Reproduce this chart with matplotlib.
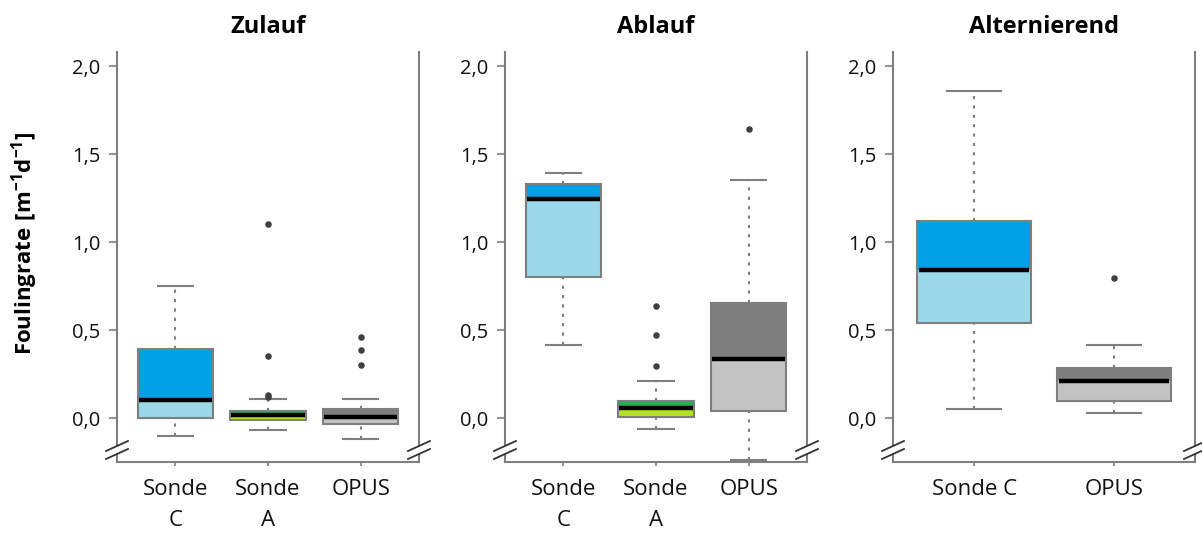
import matplotlib.pyplot as plt
import matplotlib.patches as mpatches

plt.rcParams['font.family'] = ['Open Sans', 'DejaVu Sans']
plt.rcParams['mathtext.fontset'] = 'custom'
plt.rcParams['mathtext.rm'] = 'Open Sans'
plt.rcParams['mathtext.bf'] = 'Open Sans:bold'

# Kennwerte der Boxplots je Betriebsweise: unteres Whiskerende, Q1, Median, Q3, oberes Whiskerende
titel = ['Zulauf', 'Ablauf', 'Alternierend']
kategorien = [
    ['Sonde\nC', 'Sonde\nA', 'OPUS'],
    ['Sonde\nC', 'Sonde\nA', 'OPUS'],
    ['Sonde C', 'OPUS'],
]
w_unten = [[-0.10, -0.07, -0.12], [0.415, -0.06, -0.24], [0.05, 0.027]]
q1 = [[0.0, -0.01, -0.035], [0.80, 0.007, 0.042], [0.54, 0.097]]
median = [[0.10, 0.015, 0.005], [1.245, 0.057, 0.337], [0.84, 0.21]]
q3 = [[0.39, 0.04, 0.05], [1.33, 0.097, 0.654], [1.12, 0.285]]
w_oben = [[0.75, 0.11, 0.11], [1.39, 0.21, 1.35], [1.86, 0.415]]
ausreisser = [
    [[], [1.10, 0.35, 0.13, 0.12], [0.46, 0.385, 0.30]],
    [[], [0.636, 0.47, 0.296], [1.64]],
    [[], [0.795]],
]
y_ticks = [0.0, 0.5, 1.0, 1.5, 2.0]
y_ticklabels = ['0,0', '0,5', '1,0', '1,5', '2,0']

# Farben: (unterhalb Median, oberhalb Median)
farben = {
    'Sonde C': ('#9BD9EA', '#00A2E5'),
    'Sonde A': ('#B5E61D', '#22B14C'),
    'OPUS': ('#C3C3C3', '#7F7F7F'),
}
grau = '#7F7F7F'

fig = plt.figure(figsize=(12.02, 5.39), dpi=100)
links = [117, 505, 893]
breite = 302

for i in range(3):
    ax = fig.add_axes([links[i] / 1202, 77 / 539, breite / 1202, 410 / 539])
    n = len(kategorien[i])
    pos = list(range(1, n + 1))
    bw = 0.81
    for j, p in enumerate(pos):
        name = kategorien[i][j].replace('\n', ' ')
        unten, oben = farben[name]
        ax.bar(p, median[i][j] - q1[i][j], bottom=q1[i][j], width=bw,
               color=unten, edgecolor='none', zorder=2)
        ax.bar(p, q3[i][j] - median[i][j], bottom=median[i][j], width=bw,
               color=oben, edgecolor='none', zorder=2)
        ax.bar(p, q3[i][j] - q1[i][j], bottom=q1[i][j], width=bw,
               fill=False, edgecolor=grau, linewidth=1.5, zorder=3)
        ax.hlines(median[i][j], p - bw / 2 + 0.01, p + bw / 2 - 0.01,
                  color='black', linewidth=3.2, zorder=4)
        # Whisker gepunktet, Enden als kurze Querstriche
        ax.vlines(p, q3[i][j], w_oben[i][j], color=grau, linewidth=1.5,
                  linestyle=(0, (1.5, 3)), zorder=1)
        ax.vlines(p, w_unten[i][j], q1[i][j], color=grau, linewidth=1.5,
                  linestyle=(0, (1.5, 3)), zorder=1)
        ax.hlines([w_oben[i][j], w_unten[i][j]], p - bw / 4, p + bw / 4,
                  color=grau, linewidth=1.5, zorder=1)
        if ausreisser[i][j]:
            ax.scatter([p] * len(ausreisser[i][j]), ausreisser[i][j], s=22,
                       color='#404040', zorder=5, linewidths=0)

    rand = 0.63 if n == 3 else 0.58
    ax.set_xlim(1 - rand, n + rand)
    ax.set_ylim(-0.25, 2.08)
    ax.set_xticks(pos)
    ax.set_xticklabels(kategorien[i], fontsize=16, linespacing=1.65,
                       color='#111111')
    ax.set_yticks(y_ticks)
    ax.set_yticklabels(y_ticklabels, fontsize=14.5, color='#111111')
    ax.tick_params(axis='y', length=6, width=1.2, color=grau, pad=6)
    ax.tick_params(axis='x', length=3, width=1.2, color=grau, pad=9)
    ax.spines['top'].set_visible(False)
    for s in ['left', 'right', 'bottom']:
        ax.spines[s].set_color(grau)
        ax.spines[s].set_linewidth(1.5)
    ax.set_title(titel[i], fontsize=17, fontweight='bold', pad=14)

    # Achsenbruch-Zeichen (//) an beiden senkrechten Achsen
    yb = 1 - (448 - 52) / 410
    dx, dy = 11 / breite, 5 / 410
    off = 4 / 410
    for xb in (0, 1):
        gap = mpatches.Polygon(
            [(xb - dx, yb - dy + off / 2), (xb + dx, yb + dy + off / 2),
             (xb + dx, yb + dy - off / 2 - off), (xb - dx, yb - dy - off / 2 - off)],
            closed=True, transform=ax.transAxes, facecolor='white',
            edgecolor='none', clip_on=False, zorder=6)
        ax.add_patch(gap)
        for o in (off / 2, -off / 2 - off):
            ax.plot([xb - dx, xb + dx], [yb - dy + o, yb + dy + o],
                    transform=ax.transAxes, color='#333333', linewidth=1.3,
                    clip_on=False, zorder=7)

fig.text(25 / 1202, 1 - 243 / 539, r'$\mathbf{Foulingrate\ [m^{-1}d^{-1}]}$',
         rotation=90, fontsize=16, ha='center', va='center')

fig.savefig('out.png', dpi=100)
